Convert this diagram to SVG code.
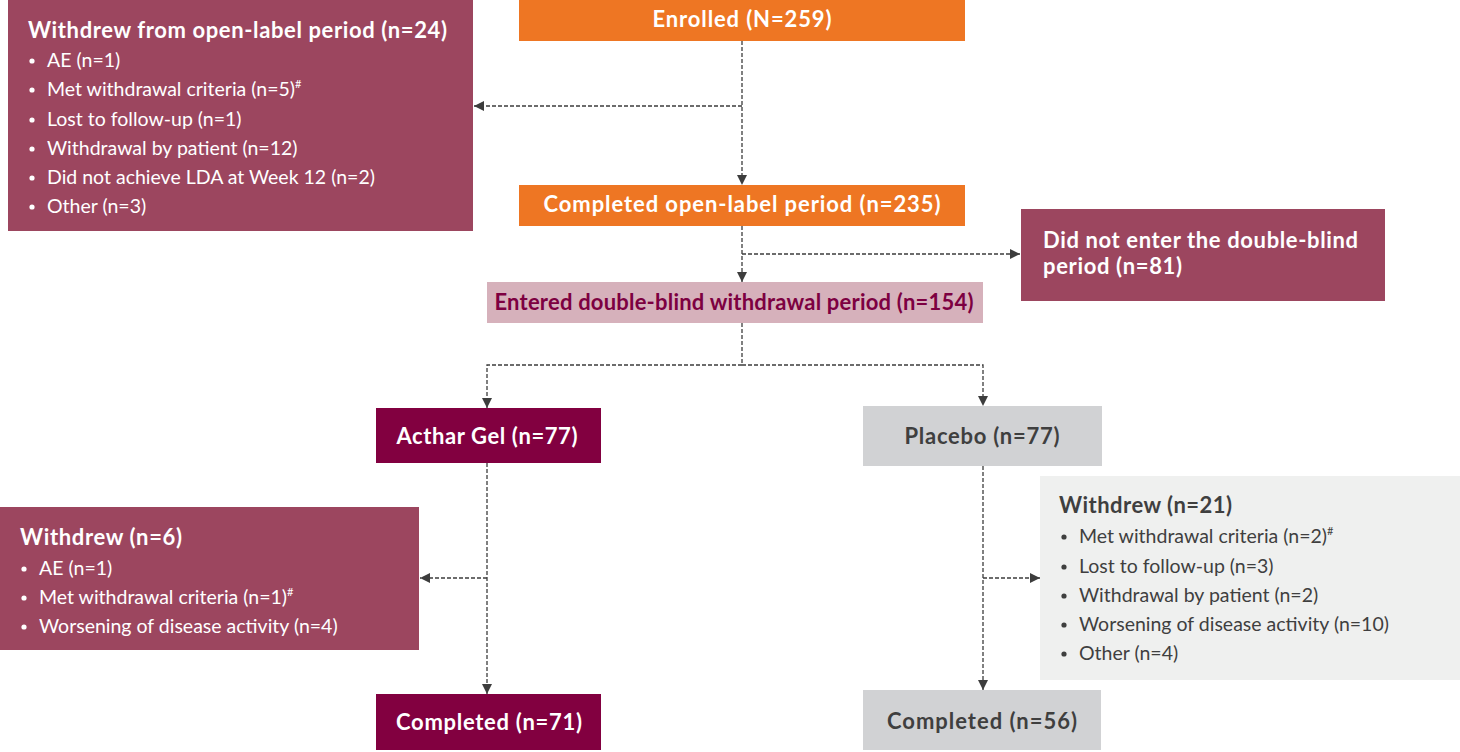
<svg xmlns="http://www.w3.org/2000/svg" width="1460" height="752" viewBox="0 0 1460 752">
<defs>
<marker id="ah" viewBox="0 0 10 10" refX="10" refY="5" markerWidth="10" markerHeight="10" markerUnits="userSpaceOnUse" orient="auto">
<path d="M0,0 L10,5 L0,10 Z" fill="#3d3d3d"/>
</marker>
<style>
.mar{fill:#9c465f}
.org{fill:#ee7623}
.pnk{fill:#d6b1bb}
.dk{fill:#820040}
.gry{fill:#d1d2d4}
.lgy{fill:#eff0ef}
text{font-family:Lato,"Noto Sans","Liberation Sans",sans-serif}
.h{font-weight:700;font-size:22px}
.w{fill:#ffffff}
.g{fill:#3f3f3f}
.p{fill:#7d0041}
.i{font-size:19.5px;font-weight:400}
.c{text-anchor:middle}
.sup{font-size:11px}
.conn{fill:none;stroke:#3d3d3d;stroke-width:1.3;stroke-dasharray:4 2}
</style>
</defs>
<g id="connectors">
<path class="conn" d="M742,41 V185" marker-end="url(#ah)"/>
<path class="conn" d="M742,106 H474" marker-end="url(#ah)"/>
<path class="conn" d="M742,226 V282" marker-end="url(#ah)"/>
<path class="conn" d="M742,254 H1020" marker-end="url(#ah)"/>
<path class="conn" d="M742,323 V365 H487 V408" marker-end="url(#ah)"/>
<path class="conn" d="M742,365 H983 V406" marker-end="url(#ah)"/>
<path class="conn" d="M487,463 V694" marker-end="url(#ah)"/>
<path class="conn" d="M487,578 H420" marker-end="url(#ah)"/>
<path class="conn" d="M983,466 V690" marker-end="url(#ah)"/>
<path class="conn" d="M983,578 H1040" marker-end="url(#ah)"/>
</g>
<g id="withdrew-open-label">
<rect class="mar" x="8" y="0" width="465" height="231"/>
<text class="h w" x="28" y="38" textLength="419">Withdrew from open-label period (n=24)</text>
<circle cx="32" cy="61" r="2.6" fill="#fff"/><text class="w i" x="47" y="67">AE (n=1)</text>
<circle cx="32" cy="90" r="2.6" fill="#fff"/><text class="w i" x="47" y="96">Met withdrawal criteria (n=5)<tspan class="sup" dy="-8">#</tspan></text>
<circle cx="32" cy="120" r="2.6" fill="#fff"/><text class="w i" x="47" y="126">Lost to follow-up (n=1)</text>
<circle cx="32" cy="149" r="2.6" fill="#fff"/><text class="w i" x="47" y="155">Withdrawal by patient (n=12)</text>
<circle cx="32" cy="178" r="2.6" fill="#fff"/><text class="w i" x="47" y="184">Did not achieve LDA at Week 12 (n=2)</text>
<circle cx="32" cy="207" r="2.6" fill="#fff"/><text class="w i" x="47" y="213">Other (n=3)</text>
</g>
<g id="enrolled">
<rect class="org" x="519" y="0" width="446" height="41"/>
<text class="h w c" x="742" y="27" textLength="179">Enrolled (N=259)</text>
</g>
<g id="completed-open-label">
<rect class="org" x="519" y="185" width="446" height="41"/>
<text class="h w c" x="742" y="212" textLength="397">Completed open-label period (n=235)</text>
</g>
<g id="did-not-enter">
<rect class="mar" x="1021" y="209" width="364" height="92"/>
<text class="h w" x="1043" y="248" textLength="315">Did not enter the double-blind</text>
<text class="h w" x="1043" y="274" textLength="139">period (n=81)</text>
</g>
<g id="entered-double-blind">
<rect class="pnk" x="487" y="282" width="496" height="41"/>
<text class="h p c" x="734" y="310" textLength="479">Entered double-blind withdrawal period (n=154)</text>
</g>
<g id="acthar">
<rect class="dk" x="376" y="408" width="225" height="55"/>
<text class="h w c" x="487" y="444" textLength="181">Acthar Gel (n=77)</text>
</g>
<g id="placebo">
<rect class="gry" x="863" y="406" width="239" height="60"/>
<text class="h g c" x="982" y="444" textLength="155">Placebo (n=77)</text>
</g>
<g id="withdrew-acthar">
<rect class="mar" x="0" y="507" width="419" height="143"/>
<text class="h w" x="20" y="545" textLength="162">Withdrew (n=6)</text>
<circle cx="24" cy="569" r="2.6" fill="#fff"/><text class="w i" x="39" y="575">AE (n=1)</text>
<circle cx="24" cy="598" r="2.6" fill="#fff"/><text class="w i" x="39" y="604">Met withdrawal criteria (n=1)<tspan class="sup" dy="-8">#</tspan></text>
<circle cx="24" cy="627" r="2.6" fill="#fff"/><text class="w i" x="39" y="633">Worsening of disease activity (n=4)</text>
</g>
<g id="withdrew-placebo">
<rect class="lgy" x="1040" y="476" width="420" height="204"/>
<text class="h g" x="1059" y="513" textLength="173">Withdrew (n=21)</text>
<circle cx="1064" cy="537" r="2.6" fill="#3f3f3f"/><text class="g i" x="1079" y="543">Met withdrawal criteria (n=2)<tspan class="sup" dy="-8">#</tspan></text>
<circle cx="1064" cy="567" r="2.6" fill="#3f3f3f"/><text class="g i" x="1079" y="573">Lost to follow-up (n=3)</text>
<circle cx="1064" cy="596" r="2.6" fill="#3f3f3f"/><text class="g i" x="1079" y="602">Withdrawal by patient (n=2)</text>
<circle cx="1064" cy="625" r="2.6" fill="#3f3f3f"/><text class="g i" x="1079" y="631">Worsening of disease activity (n=10)</text>
<circle cx="1064" cy="654" r="2.6" fill="#3f3f3f"/><text class="g i" x="1079" y="660">Other (n=4)</text>
</g>
<g id="completed-acthar">
<rect class="dk" x="376" y="694" width="225" height="56"/>
<text class="h w c" x="489" y="730" textLength="186">Completed (n=71)</text>
</g>
<g id="completed-placebo">
<rect class="gry" x="863" y="690" width="238" height="60"/>
<text class="h g c" x="982" y="729" textLength="190">Completed (n=56)</text>
</g>
</svg>
